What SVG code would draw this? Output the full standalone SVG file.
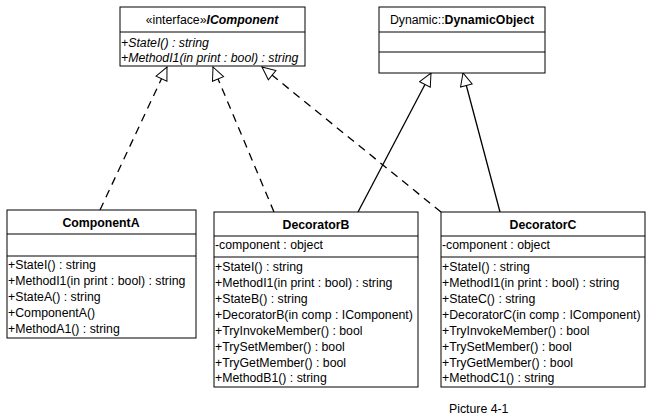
<svg xmlns="http://www.w3.org/2000/svg" width="650" height="420" viewBox="0 0 650 420">
<style>
rect{fill:#fff;stroke:#000;stroke-width:1}
line.s{stroke:#000;stroke-width:1}
text{font-family:"Liberation Sans",Arial,sans-serif;font-size:12.3px;fill:#000}
.t{text-anchor:middle;font-weight:bold}
.i{font-style:italic}
.c line{stroke:#000;stroke-width:1.3}
.d{stroke-dasharray:8,6}
</style>
<defs>
<marker id="tri" markerWidth="16" markerHeight="16" refX="14" refY="7" orient="auto" markerUnits="userSpaceOnUse">
<path d="M1,1 L14,7 L1,13 Z" fill="#fff" stroke="#000" stroke-width="1"/>
</marker>
</defs>
<rect x="0" y="0" width="650" height="420" style="stroke:none"/>
<g class="c" id="connectors">
<line class="d" x1="100" y1="210" x2="167" y2="67" marker-end="url(#tri)"/>
<line class="d" x1="274" y1="212" x2="213" y2="67" marker-end="url(#tri)"/>
<line class="d" x1="441" y1="212" x2="262" y2="67" marker-end="url(#tri)"/>
<line x1="358" y1="212" x2="431" y2="73" marker-end="url(#tri)"/>
<line x1="500" y1="212" x2="463" y2="73" marker-end="url(#tri)"/>
</g>
<g id="IComponent">
<rect x="120" y="7" width="185" height="59"/>
<line class="s" x1="120" y1="32" x2="305" y2="32"/>
<text x="212" y="24" text-anchor="middle">«interface»<tspan font-weight="bold" font-style="italic">IComponent</tspan></text>
<text class="i" x="121" y="47">+StateI() : string</text>
<text class="i" x="121" y="62">+MethodI1(in print : bool) : string</text>
</g>
<g id="DynamicObject">
<rect x="379" y="7" width="166" height="66"/>
<line class="s" x1="379" y1="32" x2="545" y2="32"/>
<line class="s" x1="379" y1="52" x2="545" y2="52"/>
<text x="462" y="24" text-anchor="middle">Dynamic::<tspan font-weight="bold">DynamicObject</tspan></text>
</g>
<g id="ComponentA">
<rect x="7" y="210" width="189" height="128"/>
<line class="s" x1="7" y1="234" x2="196" y2="234"/>
<line class="s" x1="7" y1="256" x2="196" y2="256"/>
<text class="t" x="101" y="227">ComponentA</text>
<text x="8" y="269">+StateI() : string</text>
<text x="8" y="285">+MethodI1(in print : bool) : string</text>
<text x="8" y="301">+StateA() : string</text>
<text x="8" y="317">+ComponentA()</text>
<text x="8" y="333">+MethodA1() : string</text>
</g>
<g id="DecoratorB">
<rect x="214" y="212" width="204" height="175"/>
<line class="s" x1="214" y1="236" x2="418" y2="236"/>
<line class="s" x1="214" y1="257" x2="418" y2="257"/>
<text class="t" x="316" y="229">DecoratorB</text>
<text x="215" y="249">-component : object</text>
<text x="215" y="271">+StateI() : string</text>
<text x="215" y="287">+MethodI1(in print : bool) : string</text>
<text x="215" y="303">+StateB() : string</text>
<text x="215" y="319">+DecoratorB(in comp : IComponent)</text>
<text x="215" y="335">+TryInvokeMember() : bool</text>
<text x="215" y="351">+TrySetMember() : bool</text>
<text x="215" y="367">+TryGetMember() : bool</text>
<text x="215" y="382">+MethodB1() : string</text>
</g>
<g id="DecoratorC">
<rect x="441" y="212" width="204" height="175"/>
<line class="s" x1="441" y1="236" x2="645" y2="236"/>
<line class="s" x1="441" y1="257" x2="645" y2="257"/>
<text class="t" x="543" y="229">DecoratorC</text>
<text x="442" y="249">-component : object</text>
<text x="442" y="271">+StateI() : string</text>
<text x="442" y="287">+MethodI1(in print : bool) : string</text>
<text x="442" y="303">+StateC() : string</text>
<text x="442" y="319">+DecoratorC(in comp : IComponent)</text>
<text x="442" y="335">+TryInvokeMember() : bool</text>
<text x="442" y="351">+TrySetMember() : bool</text>
<text x="442" y="367">+TryGetMember() : bool</text>
<text x="442" y="382">+MethodC1() : string</text>
</g>
<text x="449" y="413">Picture 4-1</text>
</svg>
